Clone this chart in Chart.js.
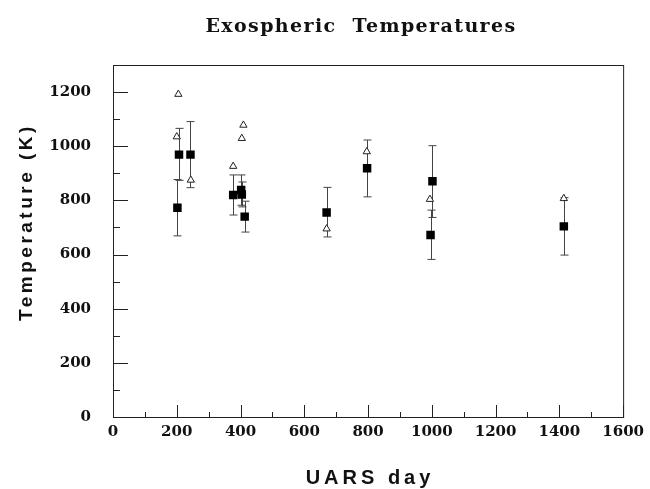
<!DOCTYPE html>
<html>
<head>
<meta charset="utf-8">
<script src="https://cdn.jsdelivr.net/npm/chart.js@4.4.0/dist/chart.umd.min.js"></script>
<style>
  html, body { margin: 0; padding: 0; background: #fff; }
  #wrap { width: 650px; height: 489px; }
</style>
</head>
<body>
<div id="wrap"><canvas id="tempChart" width="650" height="489"></canvas></div>
<script>
// tick labels
const xTicks = [0, 200, 400, 600, 800, 1000, 1200, 1400, 1600];
const yTicks = [0, 200, 400, 600, 800, 1000, 1200];

// open triangles
const triDays  = [205, 200, 244, 377, 404, 409, 670, 796, 994, 1414];
const triTemps = [1192, 1035, 875, 926, 1029, 1078, 695, 980, 804, 807];

// filled squares with error bars
const sqDays  = [202, 207, 243, 377, 402, 404, 413, 670, 797, 996, 1002, 1414];
const sqTemps = [773, 969, 969, 820, 838, 822, 740, 755, 919, 672, 871, 704];
const sqLow   = [669, 874, 847, 746, 782, 776, 683, 665, 813, 582, 737, 598];
const sqHigh  = [877, 1066, 1091, 894, 894, 868, 797, 848, 1023, 764, 1002, 810];

const ink = '#222';

const decor = {
    id: 'decor',
    beforeDatasetsDraw(chart) {
        const { ctx, chartArea, scales } = chart;
        const x = scales.x, y = scales.y;
        ctx.save();
        // box
        ctx.strokeStyle = ink;
        ctx.lineWidth = 1;
        ctx.strokeRect(chartArea.left + 0.5, chartArea.top + 0.5,
            chartArea.right - chartArea.left, chartArea.bottom - chartArea.top);

        // inward ticks
        ctx.beginPath();
        for (let v = 0; v <= 1600; v += 100) {
            const px = Math.round(x.getPixelForValue(v)) + 0.5;
            const len = v % 200 === 0 ? 12 : 5;
            ctx.moveTo(px, chartArea.bottom);
            ctx.lineTo(px, chartArea.bottom - len);
        }
        for (let v = 0; v <= 1300; v += 100) {
            const py = Math.round(y.getPixelForValue(v)) + 0.5;
            const len = v % 200 === 0 ? 15 : 7;
            ctx.moveTo(chartArea.left, py);
            ctx.lineTo(chartArea.left + len, py);
        }
        ctx.stroke();

        // error bars
        ctx.strokeStyle = '#444';
        ctx.beginPath();
        sqDays.forEach((d, i) => {
            const px = Math.round(x.getPixelForValue(d)) + 0.5;
            const lo = y.getPixelForValue(sqLow[i]);
            const hi = y.getPixelForValue(sqHigh[i]);
            ctx.moveTo(px, lo); ctx.lineTo(px, hi);
            ctx.moveTo(px - 4, lo); ctx.lineTo(px + 4, lo);
            ctx.moveTo(px - 4, hi); ctx.lineTo(px + 4, hi);
        });
        ctx.stroke();
        ctx.restore();
    },
    afterDraw(chart) {
        const { ctx } = chart;
        ctx.save();
        ctx.fillStyle = '#111';
        ctx.textAlign = 'center';
        ctx.textBaseline = 'middle';

        ctx.font = 'bold 19px "DejaVu Serif"';
        ctx.letterSpacing = '1.4px';
        ctx.fillText('Exospheric  Temperatures', 361, 27);

        ctx.font = 'bold 20px "Liberation Sans"';
        ctx.letterSpacing = '4px';
        ctx.fillText('UARS day', 370, 478);

        ctx.translate(27, 222);
        ctx.rotate(-Math.PI / 2);
        ctx.font = 'bold 19px "Liberation Sans"';
        ctx.letterSpacing = '3.5px';
        ctx.fillText('Temperature (K)', 0, 0);
        ctx.restore();
    }
};

const ctx = document.getElementById('tempChart').getContext('2d');
new Chart(ctx, {
    type: 'scatter',
    data: {
        datasets: [{
            label: 'tri',
            data: triDays.map((d, i) => ({ x: d, y: triTemps[i] })),
            pointStyle: 'triangle',
            pointRadius: 4.2,
            backgroundColor: '#fff',
            borderColor: ink,
            borderWidth: 1
        }, {
            label: 'sq',
            data: sqDays.map((d, i) => ({ x: d, y: sqTemps[i] })),
            pointStyle: 'rect',
            pointRadius: 6,
            backgroundColor: '#000',
            borderColor: '#000',
            borderWidth: 0
        }]
    },
    options: {
        responsive: false,
        animation: false,
        layout: { padding: { top: 65, right: 22, left: 0, bottom: 0 } },
        plugins: {
            legend: { display: false },
            tooltip: { enabled: false }
        },
        scales: {
            x: {
                type: 'linear',
                min: 0,
                max: 1600,
                afterBuildTicks: s => { s.ticks = xTicks.map(v => ({ value: v })); },
                afterFit: s => { s.height = 72; },
                grid: { display: false, drawTicks: false },
                border: { display: false },
                ticks: {
                    padding: 6,
                    color: '#111',
                    font: { family: 'DejaVu Serif', weight: 'bold', size: 15 },
                    maxRotation: 0,
                    callback: v => String(v)
                }
            },
            y: {
                min: 0,
                max: 1300,
                afterBuildTicks: s => { s.ticks = yTicks.map(v => ({ value: v })); },
                afterFit: s => { s.width = 113; },
                grid: { display: false, drawTicks: false },
                border: { display: false },
                ticks: {
                    padding: 22,
                    color: '#111',
                    font: { family: 'DejaVu Serif', weight: 'bold', size: 15 },
                    callback: v => String(v)
                }
            }
        }
    },
    plugins: [decor]
});
</script>
</body>
</html>
